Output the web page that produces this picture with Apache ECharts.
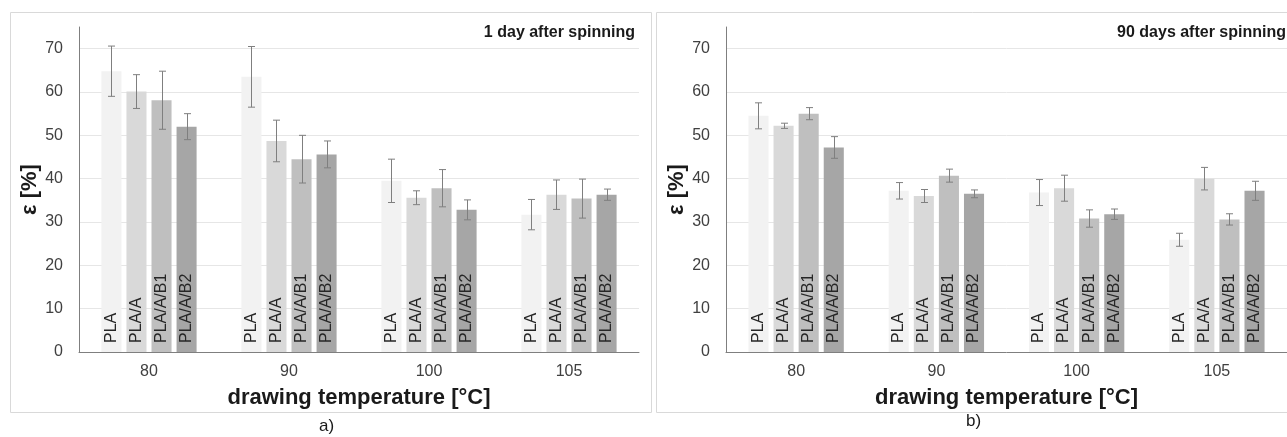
<!DOCTYPE html>
<html>
<head>
<meta charset="utf-8">
<title>elongation</title>
<script src="https://cdn.jsdelivr.net/npm/echarts@6/dist/echarts.min.js"></script>
<style>
  html, body { margin: 0; padding: 0; background: #fff; }
  #chart { width: 1287px; height: 437px; }
</style>
</head>
<body>
<div id="chart"></div>
<script>
// categories and sample names
const temps = ['80', '90', '100', '105'];
const samples = ['PLA', 'PLA/A', 'PLA/A/B1', 'PLA/A/B2'];
const barColors = ['#f2f2f2', '#d9d9d9', '#bfbfbf', '#a6a6a6'];

// a) 1 day after spinning  (mean per temperature, one array per sample)
const day1PLA   = [64.8, 63.5, 39.5, 31.7];
const day1A     = [60.1, 48.7, 35.6, 36.3];
const day1B1    = [58.1, 44.5, 37.8, 35.4];
const day1B2    = [52.0, 45.6, 32.8, 36.3];
const day1PLAerr = [5.8, 7.0, 5.0, 3.5];
const day1Aerr   = [3.9, 4.8, 1.6, 3.4];
const day1B1err  = [6.7, 5.5, 4.3, 4.5];
const day1B2err  = [3.0, 3.1, 2.3, 1.3];

// b) 90 days after spinning
const day90PLA  = [54.5, 37.2, 36.8, 25.9];
const day90A    = [52.2, 36.0, 37.8, 40.0];
const day90B1   = [55.0, 40.7, 30.8, 30.6];
const day90B2   = [47.2, 36.5, 31.8, 37.2];
const day90PLAerr = [3.0, 1.9, 3.0, 1.5];
const day90Aerr   = [0.6, 1.5, 3.0, 2.6];
const day90B1err  = [1.4, 1.5, 2.0, 1.3];
const day90B2err  = [2.5, 0.9, 1.2, 2.2];

const yTicks = [0, 10, 20, 30, 40, 50, 60, 70];

const FONT = '"Liberation Sans", Arial, sans-serif';
const CAT_GAP = 0.32, BAR_GAP = 0.25;

const chart = echarts.init(document.getElementById('chart'));

function barSeries(vals, i, gi) {
  return {
    name: samples[i],
    type: 'bar',
    xAxisIndex: gi, yAxisIndex: gi,
    data: vals,
    barCategoryGap: (CAT_GAP * 100) + '%',
    barGap: (BAR_GAP * 100) + '%',
    itemStyle: { color: barColors[i] },
    label: {
      show: true,
      position: 'insideBottom',
      rotate: 90,
      align: 'left',
      verticalAlign: 'middle',
      distance: 9,
      formatter: samples[i],
      color: '#262626',
      fontSize: 16,
      fontFamily: FONT
    },
    z: 2
  };
}

function errData(means, errs) {
  const out = [];
  means.forEach((m, si) => {
    m.forEach((v, ci) => out.push([ci, v - errs[si][ci], v + errs[si][ci], si]));
  });
  return out;
}

function errSeries(means, errs, gi) {
  return {
    type: 'custom',
    xAxisIndex: gi, yAxisIndex: gi,
    data: errData(means, errs),
    encode: { x: 0, y: [1, 2] },
    z: 5,
    silent: true,
    renderItem: function (params, api) {
      const ci = api.value(0);
      const si = api.value(3);
      const band = api.size([1, 0])[0];
      const groupW = band * (1 - CAT_GAP);
      const barW = groupW / (samples.length + (samples.length - 1) * BAR_GAP);
      const lo = api.coord([ci, api.value(1)]);
      const hi = api.coord([ci, api.value(2)]);
      const x = Math.round(lo[0] - groupW / 2 + barW / 2 + si * barW * (1 + BAR_GAP)) + 0.5;
      const cap = 3.5;
      const st = { stroke: '#7f7f7f', lineWidth: 1 };
      return {
        type: 'group',
        children: [
          { type: 'line', shape: { x1: x, y1: hi[1], x2: x, y2: lo[1] }, style: st },
          { type: 'line', shape: { x1: x - cap, y1: hi[1], x2: x + cap, y2: hi[1] }, style: st },
          { type: 'line', shape: { x1: x - cap, y1: lo[1], x2: x + cap, y2: lo[1] }, style: st }
        ]
      };
    }
  };
}

function xAx(gi) {
  return {
    type: 'category', gridIndex: gi, data: temps,
    axisLine: { lineStyle: { color: '#7f7f7f', width: 1 } },
    axisTick: { show: false },
    axisLabel: { color: '#404040', fontSize: 16, fontFamily: FONT, margin: 12 },
    name: 'drawing temperature [°C]',
    nameLocation: 'middle',
    nameGap: 35,
    nameTextStyle: { color: '#1a1a1a', fontSize: 22, fontWeight: 'bold', fontFamily: FONT }
  };
}

function yAx(gi) {
  return {
    type: 'value', gridIndex: gi, min: 0, max: 75, interval: 10,
    axisLine: { show: true, lineStyle: { color: '#7f7f7f', width: 1 } },
    axisTick: { show: false },
    axisLabel: {
      color: '#404040', fontSize: 16, fontFamily: FONT, margin: 16,
      formatter: v => (yTicks.indexOf(v) >= 0 ? String(v) : '')
    },
    splitLine: { lineStyle: { color: ['#e6e6e6', '#e6e6e6', '#e6e6e6', '#e6e6e6', '#e6e6e6', '#e6e6e6', '#e6e6e6', '#e6e6e6', 'rgba(0,0,0,0)'] } },
    name: 'ε [%]',
    nameLocation: 'middle',
    nameGap: 38,
    nameTextStyle: { color: '#1a1a1a', fontSize: 22, fontWeight: 'bold', fontFamily: FONT }
  };
}

const means1 = [day1PLA, day1A, day1B1, day1B2];
const errs1 = [day1PLAerr, day1Aerr, day1B1err, day1B2err];
const means2 = [day90PLA, day90A, day90B1, day90B2];
const errs2 = [day90PLAerr, day90Aerr, day90B1err, day90B2err];

chart.setOption({
  animation: false,
  textStyle: { fontFamily: FONT },
  title: [
    { text: '1 day after spinning', right: 647, top: 20,
      textStyle: { fontSize: 16, fontWeight: 'bold', color: '#1a1a1a', fontFamily: FONT } },
    { text: '90 days after spinning', right: -4, top: 20,
      textStyle: { fontSize: 16, fontWeight: 'bold', color: '#1a1a1a', fontFamily: FONT } }
  ],
  grid: [
    { left: 79, top: 27, width: 560, height: 325 },
    { left: 726, top: 27, width: 563, height: 325 }
  ],
  xAxis: [xAx(0), xAx(1)],
  yAxis: [yAx(0), yAx(1)],
  series: [
    ...means1.map((m, i) => barSeries(m, i, 0)),
    ...means2.map((m, i) => barSeries(m, i, 1)),
    errSeries(means1, errs1, 0),
    errSeries(means2, errs2, 1)
  ],
  graphic: [
    { type: 'rect', shape: { x: 10.5, y: 12.5, width: 641, height: 400 },
      style: { fill: 'none', stroke: '#d9d9d9', lineWidth: 1 }, silent: true },
    { type: 'rect', shape: { x: 656.5, y: 12.5, width: 640, height: 400 },
      style: { fill: 'none', stroke: '#d9d9d9', lineWidth: 1 }, silent: true },
    { type: 'text', left: 319, top: 418,
      style: { text: 'a)', fontSize: 17, fill: '#1a1a1a', fontFamily: FONT } },
    { type: 'text', left: 966, top: 413,
      style: { text: 'b)', fontSize: 17, fill: '#1a1a1a', fontFamily: FONT } }
  ]
});
</script>
</body>
</html>
